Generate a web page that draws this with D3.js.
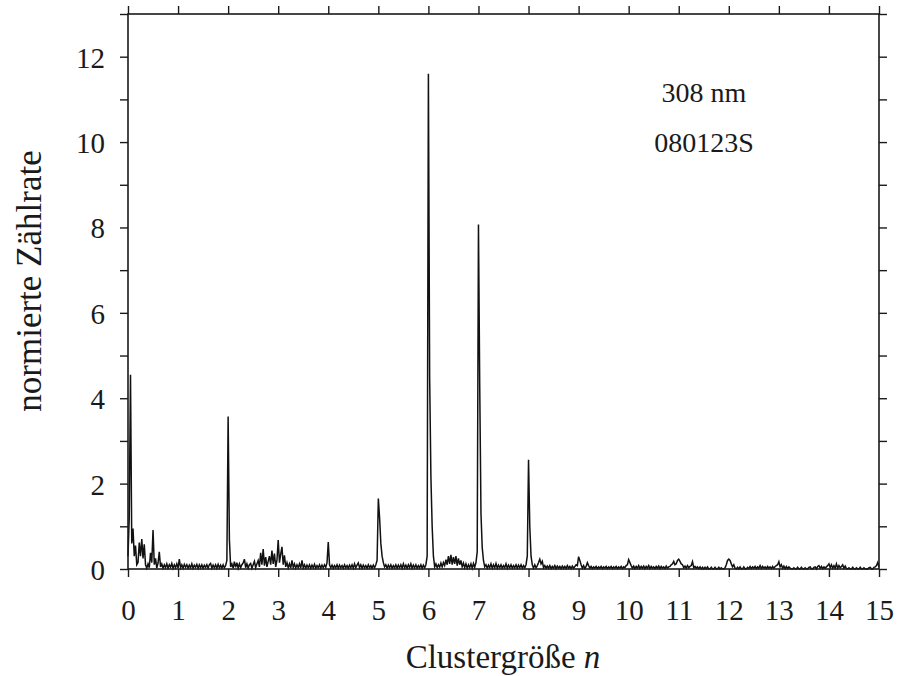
<!DOCTYPE html>
<html>
<head>
<meta charset="utf-8">
<script src="https://cdn.jsdelivr.net/npm/d3@7"></script>
<style>
  html, body { margin: 0; padding: 0; background: #fff; }
  svg { display: block; }
  text { font-family: "Liberation Serif", "Times New Roman", serif; fill: #1a1a1a; }
</style>
</head>
<body>
<svg id="chart" width="897" height="676"></svg>
<script>
// Normalised count rate, one row per unit of cluster size n (row i spans n = i ... i+1)
const rate0  = [0.3,1.2,4.55,0.6,0.95,0.3,0.55,0.1,0.15,0.62,0.3,0.7,0.25,0.58,0.1,0.02,0.12,0.03,0.38,0.15,0.91,0.1,0.25,0.02,0.14,0.4,0.05,0.12,0.02,0.1,0.03,0.12,0.02,0.1,0.04,0.13,0.02,0.1,0.03,0.12];
const rate1  = [0.02,0.23,0.03,0.1,0.02,0.11,0.04,0.1,0.02,0.09,0.03,0.12,0.02,0.09,0.04,0.11,0.02,0.1,0.03,0.1,0.02,0.09,0.04,0.1,0.02,0.1,0.13,0.02,0.09,0.03,0.1,0.02,0.11,0.03,0.09,0.02,0.1,0.03,0.08,0.2];
const rate2  = [3.57,0.7,0.05,0.12,0.02,0.17,0.04,0.15,0.02,0.12,0.03,0.1,0.14,0.23,0.03,0.12,0.02,0.1,0.13,0.02,0.1,0.18,0.03,0.12,0.2,0.05,0.38,0.1,0.47,0.08,0.28,0.05,0.18,0.3,0.1,0.43,0.12,0.36,0.05,0.2];
const rate3  = [0.68,0.15,0.35,0.52,0.1,0.32,0.05,0.15,0.03,0.12,0.02,0.2,0.04,0.12,0.02,0.1,0.03,0.12,0.02,0.2,0.03,0.1,0.02,0.09,0.03,0.1,0.02,0.09,0.03,0.11,0.02,0.08,0.03,0.1,0.02,0.09,0.03,0.1,0.04,0.15];
const rate4  = [0.63,0.1,0.03,0.09,0.02,0.08,0.03,0.1,0.02,0.09,0.03,0.08,0.02,0.1,0.03,0.08,0.02,0.09,0.03,0.1,0.02,0.12,0.03,0.09,0.14,0.03,0.1,0.02,0.09,0.03,0.08,0.02,0.1,0.03,0.08,0.02,0.09,0.03,0.1,0.2];
const rate5  = [1.65,1.2,0.6,0.3,0.15,0.05,0.1,0.02,0.09,0.03,0.1,0.02,0.08,0.03,0.1,0.02,0.09,0.03,0.1,0.02,0.12,0.03,0.09,0.02,0.1,0.03,0.12,0.02,0.09,0.03,0.1,0.02,0.08,0.03,0.1,0.02,0.09,0.03,0.1,0.3];
const rate6  = [11.6,4.5,2.16,1.0,0.3,0.05,0.12,0.03,0.1,0.04,0.14,0.05,0.15,0.08,0.22,0.1,0.3,0.12,0.33,0.1,0.28,0.12,0.3,0.08,0.25,0.1,0.2,0.05,0.14,0.03,0.12,0.02,0.1,0.03,0.12,0.02,0.13,0.04,0.15,0.4];
const rate7  = [8.07,4.3,1.3,0.5,0.2,0.05,0.1,0.02,0.09,0.03,0.12,0.02,0.1,0.03,0.13,0.02,0.09,0.03,0.1,0.02,0.08,0.03,0.12,0.02,0.09,0.03,0.1,0.02,0.08,0.03,0.1,0.02,0.09,0.03,0.1,0.02,0.08,0.03,0.1,0.3];
const rate8  = [2.56,1.0,0.3,0.1,0.02,0.1,0.03,0.08,0.15,0.23,0.12,0.18,0.03,0.08,0.02,0.07,0.02,0.08,0.01,0.06,0.02,0.08,0.01,0.07,0.02,0.06,0.01,0.07,0.02,0.06,0.01,0.08,0.02,0.06,0.01,0.07,0.02,0.06,0.1,0.08];
const rate9  = [0.29,0.2,0.1,0.02,0.08,0.01,0.06,0.15,0.08,0.02,0.06,0.01,0.05,0.02,0.06,0.01,0.05,0.02,0.06,0.01,0.05,0.02,0.06,0.01,0.05,0.02,0.06,0.01,0.05,0.02,0.06,0.01,0.05,0.02,0.06,0.01,0.05,0.03,0.08,0.1];
const rate10 = [0.22,0.15,0.08,0.02,0.07,0.01,0.06,0.02,0.08,0.01,0.06,0.02,0.07,0.01,0.06,0.02,0.08,0.01,0.06,0.02,0.05,0.01,0.06,0.02,0.07,0.01,0.06,0.02,0.05,0.01,0.07,0.02,0.05,0.06,0.1,0.12,0.18,0.1,0.12,0.2];
const rate11 = [0.23,0.18,0.12,0.1,0.03,0.07,0.02,0.08,0.03,0.06,0.08,0.17,0.03,0.06,0.02,0.05,0.01,0.05,0,0.04,0,0.04,0,0.05,0,0,0.04,0,0,0.04,0,0,0.04,0,0.03,0,0,0.03,0.1,0.2];
const rate12 = [0.23,0.2,0.12,0.05,0.1,0.02,0,0.04,0,0.05,0,0,0.05,0,0,0.04,0.01,0.06,0.01,0.05,0.02,0.06,0.01,0.05,0.02,0.08,0.01,0.06,0.02,0.05,0.01,0.06,0.02,0.05,0.01,0.06,0.02,0.06,0.08,0.1];
const rate13 = [0.17,0.05,0.1,0.02,0.07,0.01,0.06,0.01,0.05,0.02,0,0,0.03,0,0,0.04,0,0,0.04,0,0,0.03,0,0,0.04,0.05,0,0,0.04,0.05,0,0.06,0.08,0.02,0.06,0.01,0.05,0.02,0.05,0.08];
const rate14 = [0.12,0.03,0.1,0.02,0.08,0.02,0.12,0.02,0.08,0.03,0.06,0.1,0.02,0.07,0.01,0,0.03,0,0,0.04,0,0,0.03,0,0,0.04,0,0,0.03,0,0,0,0.03,0.04,0,0,0.04,0.05,0.08,0.15];
const rateEnd = 0.05; // value at n = 15

const rateRows = [rate0, rate1, rate2, rate3, rate4, rate5, rate6, rate7, rate8, rate9, rate10, rate11, rate12, rate13, rate14];

const xTicks = d3.range(0, 16);            // 0 ... 15
const yTicks = d3.range(0, 14);            // minor ticks every 1
const yLabels = [0, 2, 4, 6, 8, 10, 12];   // labelled ticks
const infoLines = ["308 nm", "080123S"];
const xTitle = "Clustergröße";
const xTitleVar = "n";
const yTitle = "normierte Zählrate";

// Build the (n, rate) series
const spectrum = [];
rateRows.forEach((row, i) => {
  row.forEach((v, k) => spectrum.push({ n: i + k / row.length, r: v }));
});
spectrum.push({ n: 15, r: rateEnd });

const margin = { left: 128, right: 18, top: 14, bottom: 107 };
const W = 897, H = 676;
const innerW = W - margin.left - margin.right;
const innerH = H - margin.top - margin.bottom;

const xScale = d3.scaleLinear().domain([0, 15]).range([0, innerW]);
const yScale = d3.scaleLinear().domain([0, 13]).range([innerH, 0]);

const svg = d3.select("#chart");
const plot = svg.append("g").attr("transform", `translate(${margin.left},${margin.top})`);

const tickLen = 8;
const styleAxis = sel => {
  sel.select(".domain").remove();
  sel.selectAll(".tick line").attr("stroke", "#1a1a1a").attr("stroke-width", 1.4);
};

// bottom axis with labels
const axisB = plot.append("g").attr("transform", `translate(0,${innerH})`)
  .call(d3.axisBottom(xScale).tickValues(xTicks).tickSize(tickLen).tickSizeOuter(0).tickFormat(d3.format("d")));
styleAxis(axisB);
axisB.selectAll(".tick text")
  .attr("y", 51).attr("dy", null)
  .style("font-size", "29px").style("font-family", "'Liberation Serif', serif").attr("fill", "#1a1a1a");

// top axis, ticks only
const axisT = plot.append("g")
  .call(d3.axisTop(xScale).tickValues(xTicks).tickSize(tickLen).tickSizeOuter(0).tickFormat(""));
styleAxis(axisT);

// left axis: tick every 1, label every 2
const axisL = plot.append("g")
  .call(d3.axisLeft(yScale).tickValues(yTicks).tickSize(tickLen).tickSizeOuter(0)
    .tickFormat(d => yLabels.includes(d) ? d : ""));
styleAxis(axisL);
axisL.selectAll(".tick text")
  .attr("x", -23).attr("dy", "0.36em")
  .style("font-size", "29px").style("font-family", "'Liberation Serif', serif").attr("fill", "#1a1a1a");

// right axis, ticks only
const axisR = plot.append("g").attr("transform", `translate(${innerW},0)`)
  .call(d3.axisRight(yScale).tickValues(yTicks).tickSize(tickLen).tickSizeOuter(0).tickFormat(""));
styleAxis(axisR);

// spectrum trace
const trace = d3.line().x(d => xScale(d.n)).y(d => yScale(d.r));
plot.append("path")
  .datum(spectrum)
  .attr("fill", "none")
  .attr("stroke", "#111")
  .attr("stroke-width", 1.5)
  .attr("stroke-linejoin", "miter")
  .attr("d", trace);

// frame
plot.append("rect")
  .attr("x", 0).attr("y", 0).attr("width", innerW).attr("height", innerH)
  .attr("fill", "none").attr("stroke", "#1a1a1a").attr("stroke-width", 1.6);

// annotation text
plot.selectAll(".info")
  .data(infoLines)
  .enter().append("text")
  .attr("class", "info")
  .attr("x", 576).attr("y", (d, i) => 88 + i * 50)
  .attr("text-anchor", "middle")
  .style("font-size", "28px")
  .text(d => d);

// axis titles
const xt = svg.append("text")
  .attr("x", 503).attr("y", 668)
  .attr("text-anchor", "middle")
  .style("font-size", "33px");
xt.append("tspan").text(xTitle + " ");
xt.append("tspan").style("font-style", "italic").text(xTitleVar);

svg.append("text")
  .attr("transform", "translate(41,281) rotate(-90)")
  .attr("text-anchor", "middle")
  .style("font-size", "35px")
  .text(yTitle);
</script>
</body>
</html>
